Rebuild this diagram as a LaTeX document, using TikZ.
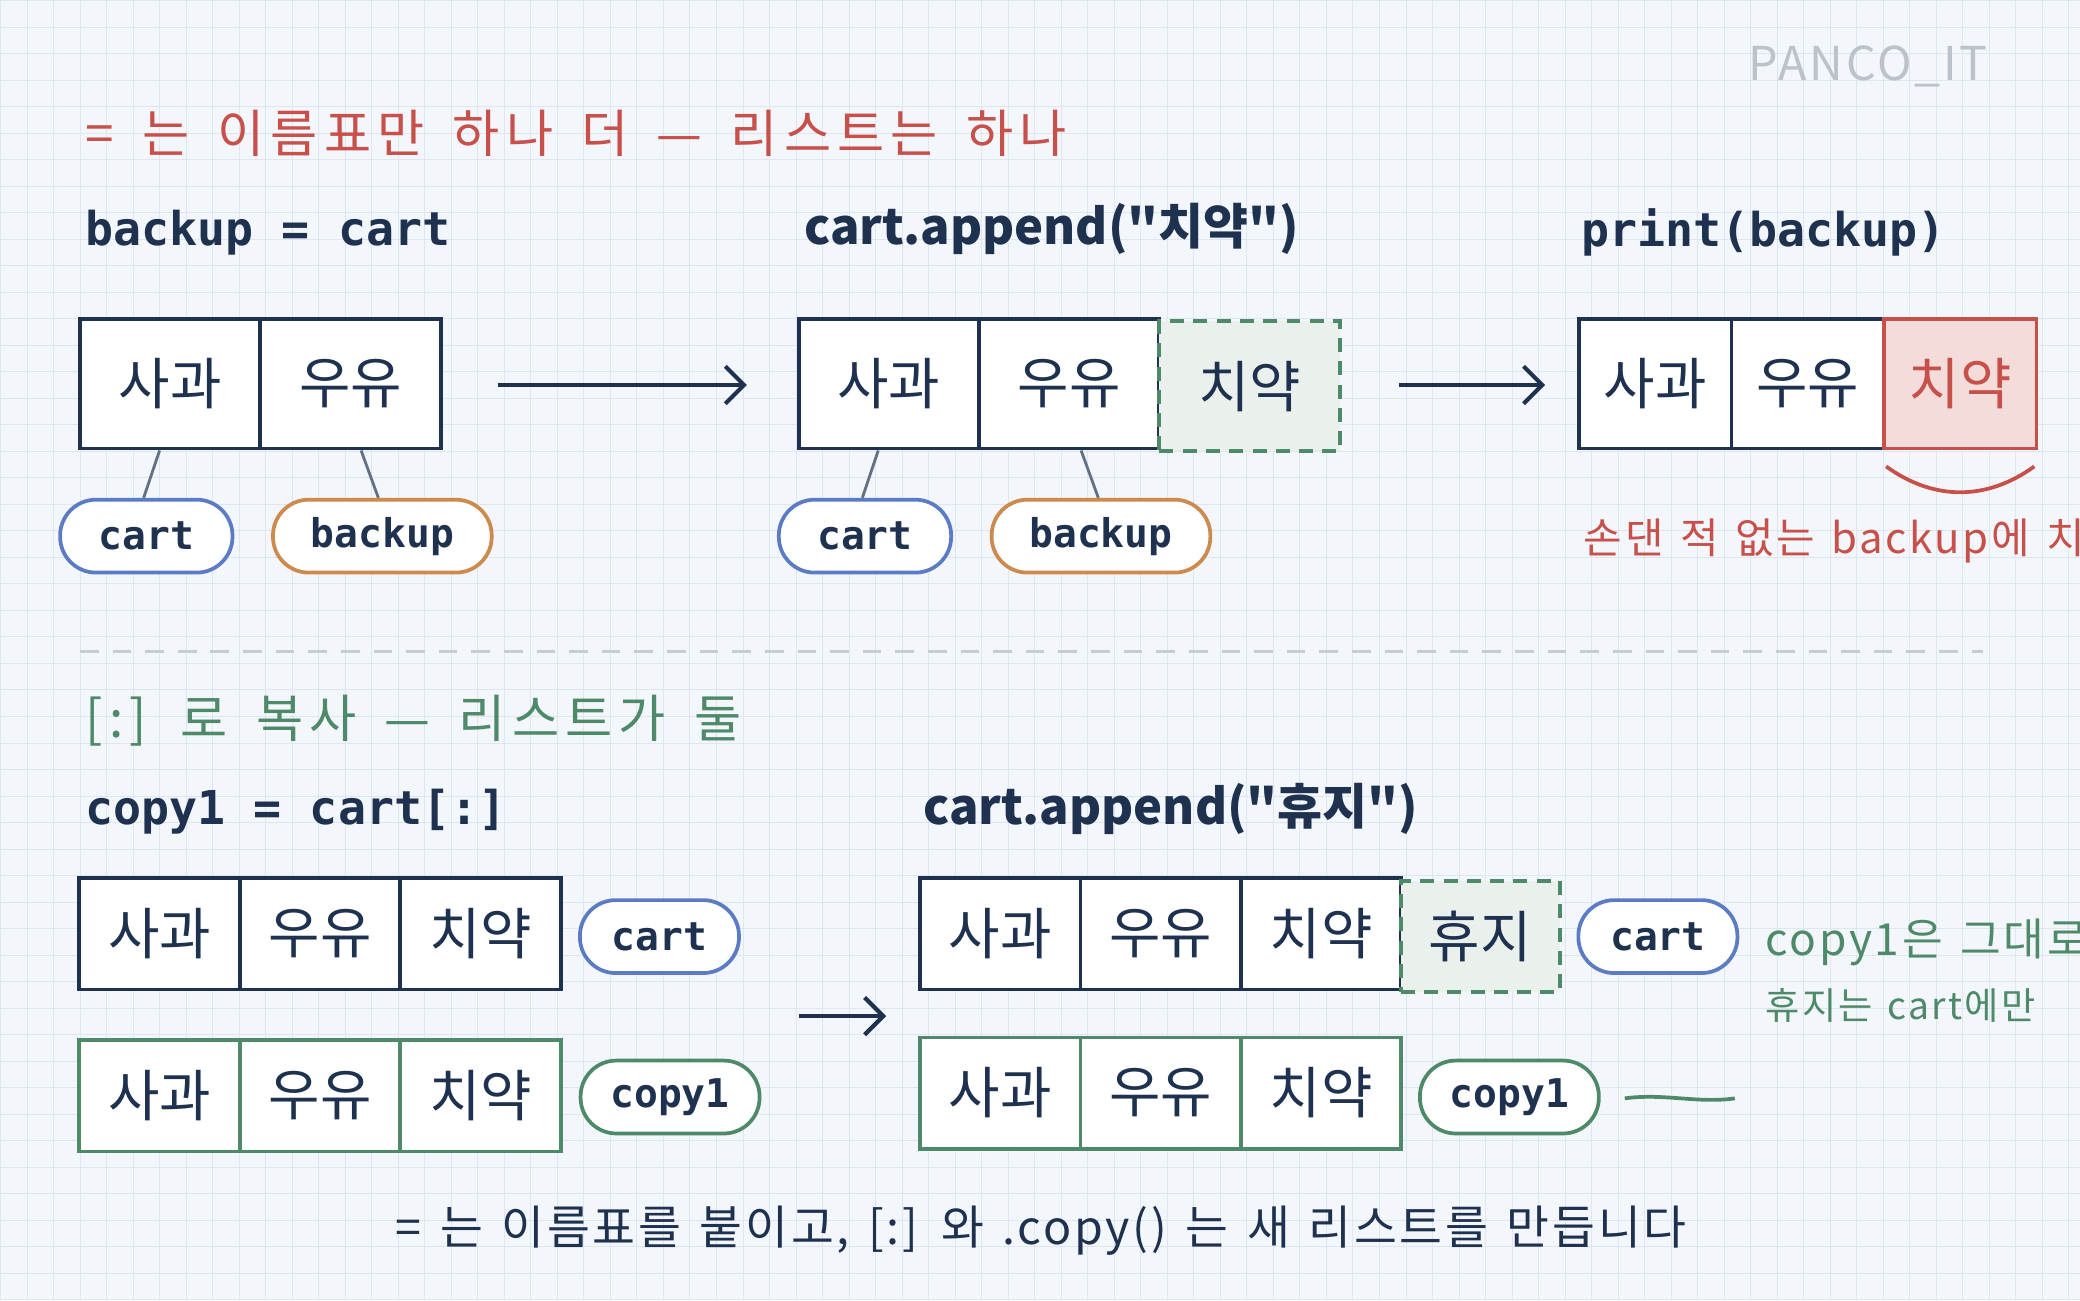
\documentclass[tikz,border=0pt]{standalone}
\usepackage{fontspec}
\setmainfont{Noto Sans CJK KR}
\setmonofont{DejaVu Sans Mono}
\newfontfamily\krbold{Noto Sans CJK KR}
\newfontfamily\krwide[LetterSpace=12,WordSpace=1.6]{Noto Sans CJK KR}
\newfontfamily\krnote[LetterSpace=6,WordSpace=1.4]{Noto Sans CJK KR}
\usetikzlibrary{positioning,calc,arrows.meta}
\definecolor{navy}{HTML}{1E3250}
\definecolor{pblue}{HTML}{5B7CC4}
\definecolor{porange}{HTML}{CC8A4E}
\definecolor{pgreen}{HTML}{4E8A6A}
\definecolor{pred}{HTML}{C8504A}
\definecolor{bg}{HTML}{F3F6FA}
\definecolor{gridc}{HTML}{DFE6EF}
\tikzset{
  cell/.style={draw=navy, line width=1.6pt, fill=white, minimum width=#1*0.02cm, minimum height=1.96cm, inner sep=0pt, font=\fontsize{24}{28}\selectfont, text=navy},
  gcell/.style={cell=#1, draw=pgreen},
  newcell/.style={cell=#1, draw=pgreen, dashed, dash pattern=on 6pt off 4pt, fill=pgreen!12},
  redcell/.style={cell=#1, draw=pred, fill=pred!20, text=pred},
  pill/.style={draw=#1, line width=1.6pt, fill=white, rounded corners=0.54cm, minimum height=1.1cm, inner sep=0pt, font=\fontsize{17}{20}\selectfont\ttfamily\bfseries, text=navy},
  code/.style={anchor=west, font=\fontsize{20}{24}\selectfont\ttfamily\bfseries, text=navy},
  appendline/.style={anchor=west, font=\fontsize{21}{24}\selectfont\krbold\bfseries, text=navy},
  tie/.style={draw=navy!70, line width=1.2pt},
  flow/.style={draw=navy, line width=1.8pt, -{Straight Barb[length=8pt,width=16pt]}}
}
\begin{document}
\begin{tikzpicture}[x=0.02cm, y=-0.02cm]
  % background and grid
  \fill[bg] (0,0) rectangle (1568,980);
  \foreach \gx in {0,20,...,1560} \draw[gridc, line width=0.4pt] (\gx,0) -- (\gx,980);
  \foreach \gy in {0,20,...,980} \draw[gridc, line width=0.4pt] (0,\gy) -- (1568,\gy);
  \useasboundingbox (0,0) rectangle (1568,980);

  \node[anchor=east, text=navy!30, font=\fontsize{20}{24}\selectfont\krnote] (brand) at (1505,50) {PANCO\_IT};

  % top half: = only adds a name tag
  \node[anchor=west, text=pred, font=\fontsize{22}{24}\selectfont\krwide] (title1) at (58,100) {= 는 이름표만 하나 더 — 리스트는 하나};
  \node[code] (code1) at (58,175) {backup = cart};
  \node[appendline] (code2) at (600,172) {cart.append("치약")};
  \node[code] (code3) at (1186,175) {print(backup)};

  \node[cell=136] (a1) at (128,289) {사과};
  \node[cell=136] (a2) at (264,289) {우유};
  \node[pill=pblue, minimum width=2.6cm] (pa1) at (110,404) {cart};
  \node[pill=porange, minimum width=3.3cm] (pa2) at (288,404) {backup};
  \draw[tie] ($(a1.south)+(-8,0)$) -- ($(pa1.north)+(-2,0)$);
  \draw[tie] ($(a2.south)+(8,0)$) -- ($(pa2.north)+(-3,0)$);

  \node[cell=136] (b1) at (670,289) {사과};
  \node[cell=136] (b2) at (806,289) {우유};
  \node[newcell=136] (b3) at (942,291) {치약};
  \node[pill=pblue, minimum width=2.6cm] (pb1) at (652,404) {cart};
  \node[pill=porange, minimum width=3.3cm] (pb2) at (830,404) {backup};
  \draw[tie] ($(b1.south)+(-8,0)$) -- ($(pb1.north)+(-2,0)$);
  \draw[tie] ($(b2.south)+(9,0)$) -- ($(pb2.north)+(-2,0)$);

  \node[cell=115] (c1) at (1248,289) {사과};
  \node[cell=115] (c2) at (1363,289) {우유};
  \node[redcell=115] (c3) at (1478,289) {치약};
  \draw[pred, line width=1.6pt] ($(c3.south west)+(3,12)$) .. controls ($(c3.south)+(-20,38)$) and ($(c3.south)+(20,38)$) .. ($(c3.south east)+(-3,12)$);
  \node[anchor=west, text=pred, font=\fontsize{18}{20}\selectfont\krnote] (note1) at (1188,408) {손댄 적 없는 backup에 치약};

  \coordinate (s1) at (375,290);
  \coordinate (e1) at (563,290);
  \coordinate (s2) at (1055,290);
  \coordinate (e2) at (1165,290);
  \draw[flow] (s1) -- (e1);
  \draw[flow] (s2) -- (e2);

  % divider
  \coordinate (d1) at (60,491);
  \coordinate (d2) at (1495,491);
  \draw[navy!25, line width=1.4pt, dash pattern=on 8pt off 6pt] (d1) -- (d2);

  % bottom half: [:] copies
  \node[anchor=west, text=pgreen, font=\fontsize{22}{24}\selectfont\krwide] (title2) at (58,543) {[:] 로 복사 — 리스트가 둘};
  \node[code] (code4) at (58,612) {copy1 = cart[:]};
  \node[appendline] (code5) at (690,610) {cart.append("휴지")};

  \node[cell=121, minimum height=1.68cm] (l1) at (120,704) {사과};
  \node[cell=121, minimum height=1.68cm] (l2) at (241,704) {우유};
  \node[cell=121, minimum height=1.68cm] (l3) at (362,704) {치약};
  \node[gcell=121, minimum height=1.68cm] (m1) at (120,826) {사과};
  \node[gcell=121, minimum height=1.68cm] (m2) at (241,826) {우유};
  \node[gcell=121, minimum height=1.68cm] (m3) at (362,826) {치약};
  \node[pill=pblue, minimum width=2.4cm] (pl) at (497,706) {cart};
  \node[pill=pgreen, minimum width=2.7cm] (pm) at (505,827) {copy1};

  \coordinate (s3) at (602,766);
  \coordinate (e3) at (668,766);
  \draw[flow] (s3) -- (e3);

  \node[cell=121, minimum height=1.68cm] (r1) at (754,704) {사과};
  \node[cell=121, minimum height=1.68cm] (r2) at (875,704) {우유};
  \node[cell=121, minimum height=1.68cm] (r3) at (996,704) {치약};
  \node[newcell=120, minimum height=1.68cm] (r4) at (1116,706) {휴지};
  \node[gcell=121, minimum height=1.68cm] (q1) at (754,824) {사과};
  \node[gcell=121, minimum height=1.68cm] (q2) at (875,824) {우유};
  \node[gcell=121, minimum height=1.68cm] (q3) at (996,824) {치약};
  \node[pill=pblue, minimum width=2.4cm] (pr) at (1250,706) {cart};
  \node[pill=pgreen, minimum width=2.7cm] (pq) at (1138,827) {copy1};
  \coordinate (w1) at (1225,828);
  \coordinate (w2) at (1308,828);
  \draw[pgreen, line width=1.6pt] (w1) .. controls (1255,824) and (1280,832) .. (w2);

  \node[anchor=west, text=pgreen, font=\fontsize{19}{22}\selectfont\krnote] (note2) at (1325,710) {copy1은 그대로};
  \node[anchor=west, text=pgreen, font=\fontsize{16}{19}\selectfont\krnote] (note3) at (1325,758) {휴지는 cart에만};

  \node[text=navy, font=\fontsize{20}{22}\selectfont\krnote] (summary) at (785,928) {= 는 이름표를 붙이고, [:] 와 .copy() 는 새 리스트를 만듭니다};
\end{tikzpicture}
\end{document}
